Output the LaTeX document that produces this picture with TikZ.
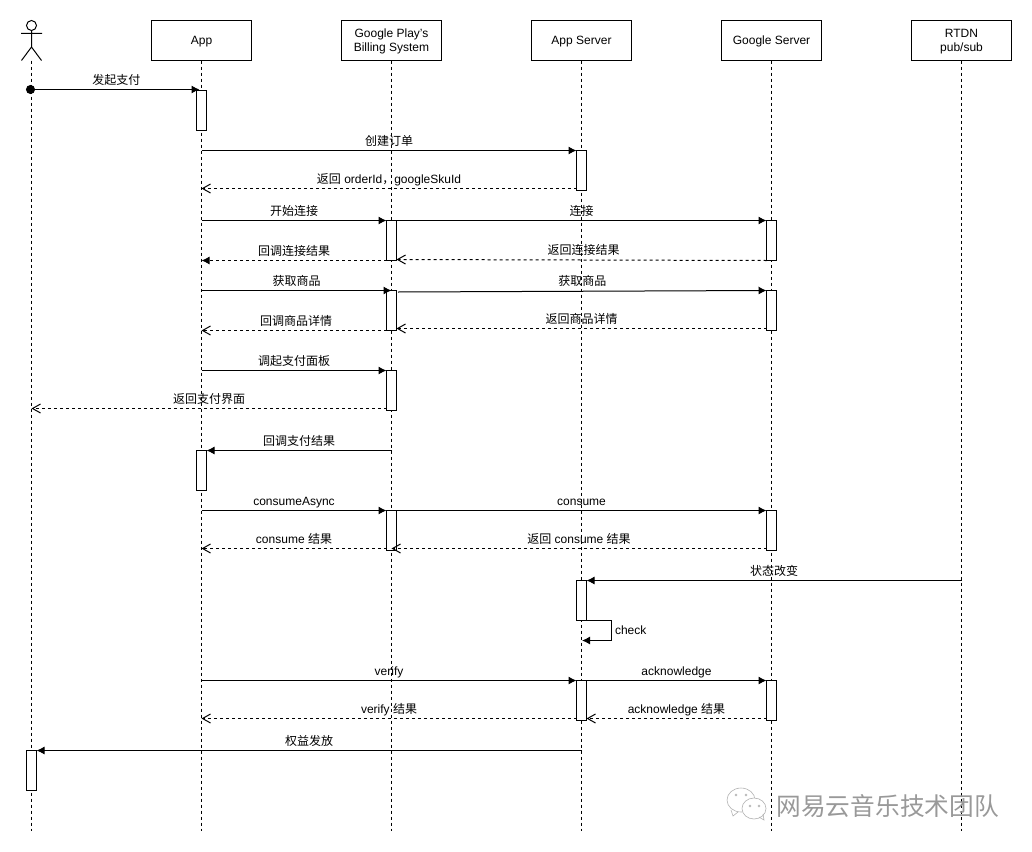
\documentclass[tikz,border=0pt]{standalone}
\usepackage{fontspec}
\setmainfont{Liberation Sans}
\newfontfamily\cjk{Noto Sans CJK SC}
\usetikzlibrary{arrows.meta}
\newcommand{\zh}[1]{{\cjk #1}}
\tikzset{
every node/.style={font=\fontsize{12}{14}\selectfont},
lifebox/.style={draw, fill=white, align=center, inner sep=0, outer sep=0,
	minimum width=100pt, minimum height=40pt},
actbox/.style={draw, fill=white, inner sep=0, outer sep=0, anchor=north,
	minimum width=10pt, minimum height=#1pt},
actbox/.default=40,
lifeline/.style={dash pattern=on 3pt off 3pt},
msg/.style={-{Latex[length=8pt,width=8pt]}},
ret/.style={dash pattern=on 3pt off 3pt, -{Straight Barb[length=8pt,width=9pt]}},
retfill/.style={dash pattern=on 3pt off 3pt, -{Latex[length=8pt,width=8pt]}},
lbl/.style={midway, above, inner sep=0, yshift=2.5pt, text height=9pt, text depth=2.5pt}
}

\begin{document}
\begin{tikzpicture}[x=1pt, y=-1pt, line width=1pt]
	\useasboundingbox (0,0) rectangle (1032,851);
	\coordinate (lifeend) at (0,830.5);
	\coordinate (user) at (31.5,60.5);
	\foreach \who/\pos/\txt in {app/201.5/App, bill/391.5/{Google Play's\\Billing System},
		appsrv/581.5/App Server, gsrv/771.5/Google Server, rtdn/961.5/{RTDN\\pub/sub}}
		\node[lifebox] (\who) at (\pos,40.5) {\rule{0pt}{10.6pt}\txt};
	\foreach \who in {user,app,bill,appsrv,gsrv,rtdn}
		\draw[lifeline] (\who) -- (\who |- lifeend);
	% actor
	\node[draw, circle, inner sep=0, minimum size=10pt] (head) at (31.5,25.5) {};
	\coordinate (hip) at (31.5,47);
	\coordinate (armleft) at (21,33.5);
	\coordinate (armright) at (42,33.5);
	\coordinate (footleft) at (21.5,60.5);
	\coordinate (footright) at (41.5,60.5);
	\draw (head) -- (hip) (armleft) -- (armright) (footleft) -- (hip) -- (footright);
	% activations
	\node[actbox] (pay) at (201.5,90.5) {};
	\node[actbox] (order) at (581.5,150.5) {};
	\node[actbox] (billconn) at (391.5,220.5) {};
	\node[actbox] (gconn) at (771.5,220.5) {};
	\node[actbox] (billgoods) at (391.5,290.5) {};
	\node[actbox] (ggoods) at (771.5,290.5) {};
	\node[actbox] (panel) at (391.5,370.5) {};
	\node[actbox] (payback) at (201.5,450.5) {};
	\node[actbox] (billconsume) at (391.5,510.5) {};
	\node[actbox] (gconsume) at (771.5,510.5) {};
	\node[actbox] (state) at (581.5,580.5) {};
	\node[actbox] (verify) at (581.5,680.5) {};
	\node[actbox] (gack) at (771.5,680.5) {};
	\node[actbox] (grant) at (31.5,750.5) {};
	% messages
	\node[draw, circle, fill=black, inner sep=0, minimum size=8pt] (paydot) at (30.5,89.5) {};
	\draw[msg] (paydot) -- node[lbl, xshift=-1pt] {\zh{发起支付}} ([xshift=3pt,yshift=1pt]pay.north west);
	\draw[msg] (app |- order.north) -- node[lbl] {\zh{创建订单}} (order.north west);
	\draw[ret] ([yshift=2pt]order.south west) -- node[lbl] {\zh{返回} orderId\zh{，}googleSkuId} ([yshift=2pt]order.south west -| app);
	\draw[msg] (app |- billconn.north) -- node[lbl] {\zh{开始连接}} (billconn.north west);
	\draw[msg] (billconn.north east) -- node[lbl] {\zh{连接}} (gconn.north west);
	\draw[retfill] (billconn.south west) -- node[lbl] {\zh{回调连接结果}} (billconn.south west -| app);
	\draw[ret] (gconn.south west) -- node[lbl, xshift=2pt] {\zh{返回连接结果}} ([yshift=1pt]billconn.south east);
	\draw[msg] (app |- billgoods.north) -- node[lbl] {\zh{获取商品}} (billgoods.north);
	\coordinate (goodsstart) at (398,292);
	\draw[msg] (goodsstart) -- node[lbl] {\zh{获取商品}} (ggoods.north west);
	\draw[ret] (billgoods.south west) -- node[lbl, xshift=2pt] {\zh{回调商品详情}} (billgoods.south west -| app);
	\draw[ret] ([yshift=2pt]ggoods.south west) -- node[lbl] {\zh{返回商品详情}} ([yshift=2pt]billgoods.south east);
	\draw[msg] (app |- panel.north) -- node[lbl] {\zh{调起支付面板}} (panel.north west);
	\draw[ret] ([yshift=2pt]panel.south west) -- node[lbl] {\zh{返回支付界面}} ([yshift=2pt]panel.south west -| user);
	\draw[msg] (bill |- payback.north) -- node[lbl] {\zh{回调支付结果}} (payback.north east);
	\draw[msg] (app |- billconsume.north) -- node[lbl] {consumeAsync} (billconsume.north west);
	\draw[msg] (billconsume.north east) -- node[lbl] {consume} (gconsume.north west);
	\draw[ret] ([yshift=2pt]billconsume.south west) -- node[lbl] {consume \zh{结果}} ([yshift=2pt]billconsume.south west -| app);
	\draw[ret] ([yshift=2pt]gconsume.south west) -- node[lbl] {\zh{返回} consume \zh{结果}} ([yshift=2pt]billconsume.south);
	\draw[msg] (rtdn |- state.north) -- node[lbl] {\zh{状态改变}} (state.north east);
	\coordinate (checkback) at (582,640.5);
	\draw[msg] (state.south east) -- ++(25,0) |- node[pos=0.25, right, inner sep=0, xshift=3pt] {check} (checkback);
	\draw[msg] (app |- verify.north) -- node[lbl] {verify} (verify.north west);
	\draw[msg] (verify.north east) -- node[lbl] {acknowledge} (gack.north west);
	\draw[ret] ([yshift=2pt]verify.south west) -- node[lbl] {verify \zh{结果}} ([yshift=2pt]verify.south west -| app);
	\draw[ret] ([yshift=2pt]gack.south west) -- node[lbl] {acknowledge \zh{结果}} ([yshift=2pt]verify.south east);
	\draw[msg] (appsrv |- grant.north) -- node[lbl] {\zh{权益发放}} (grant.north east);
	% watermark
	\begin{scope}[draw=black!30, line width=0.6pt]
		\draw[fill=white] (741,800) ellipse (14 and 12);
		\draw (731,810) -- (733,816) -- (738,812);
		\draw[fill=white] (754,808.5) ellipse (12 and 10.5);
		\draw (759,817) -- (764,820) -- (763,814);
		\foreach \dx/\dy in {736/795, 746/795, 750/806, 759/806}
			\draw (\dx,\dy) circle (1);
	\end{scope}
	\node[text=black!40, inner sep=0, anchor=west, font=\fontsize{24.7}{28}\cjk] (mark) at (776,806.5) {网易云音乐技术团队};
\end{tikzpicture}
\end{document}
